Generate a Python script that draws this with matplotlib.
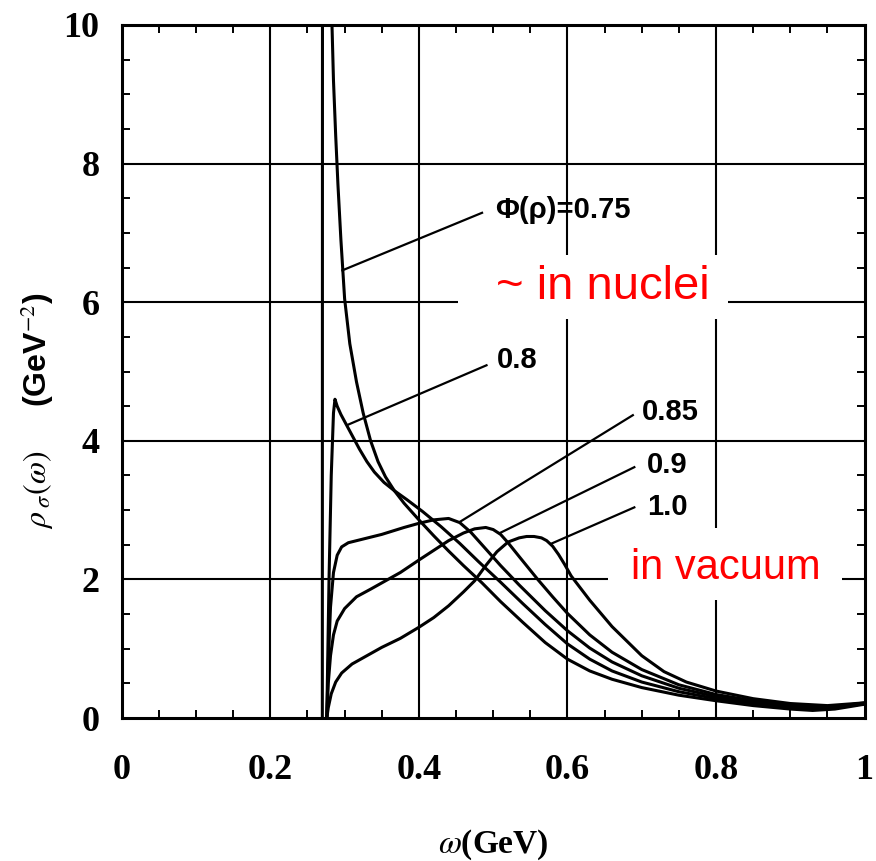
import matplotlib
matplotlib.use("Agg")
import matplotlib.pyplot as plt
from matplotlib.patches import Rectangle
from matplotlib.ticker import MultipleLocator

# sigma spectral function rho_sigma(omega) [GeV^-2] vs omega [GeV],
# one curve per Phi(rho)
w_075 = [0.270, 0.2702, 0.2828, 0.283, 0.285, 0.288, 0.291, 0.295, 0.300, 0.307,
         0.316, 0.325, 0.335, 0.345, 0.355, 0.367, 0.380, 0.400, 0.420, 0.440,
         0.460, 0.485, 0.510, 0.540, 0.570, 0.600, 0.630, 0.660, 0.700, 0.750,
         0.800, 0.850, 0.900, 0.930, 0.960, 1.000]
rho_075 = [0.0, 11.0, 11.0, 10.0, 9.2, 8.4, 7.7, 6.9, 6.05, 5.4,
           4.85, 4.4, 4.0, 3.7, 3.48, 3.28, 3.1, 2.86, 2.63, 2.41,
           2.2, 1.95, 1.68, 1.38, 1.09, 0.85, 0.68, 0.56, 0.44, 0.33,
           0.25, 0.18, 0.13, 0.11, 0.13, 0.2]

w_080 = [0.276, 0.279, 0.282, 0.285, 0.287, 0.290, 0.295, 0.303, 0.311, 0.320,
         0.330, 0.340, 0.353, 0.367, 0.384, 0.405, 0.430, 0.455, 0.480, 0.510,
         0.540, 0.570, 0.600, 0.630, 0.660, 0.700, 0.750, 0.800, 0.850, 0.900,
         0.950, 1.000]
rho_080 = [0.0, 2.0, 3.5, 4.4, 4.6, 4.5, 4.38, 4.22, 4.06, 3.88,
           3.7, 3.55, 3.4, 3.28, 3.15, 2.98, 2.76, 2.52, 2.26, 1.96,
           1.65, 1.35, 1.07, 0.85, 0.68, 0.52, 0.38, 0.28, 0.2, 0.15,
           0.13, 0.21]

w_085 = [0.276, 0.278, 0.281, 0.285, 0.290, 0.296, 0.305, 0.320, 0.350, 0.380,
         0.400, 0.420, 0.440, 0.455, 0.470, 0.490, 0.510, 0.535, 0.570, 0.600,
         0.630, 0.660, 0.700, 0.750, 0.800, 0.850, 0.900, 0.950, 1.000]
rho_085 = [0.0, 0.8, 1.6, 2.1, 2.35, 2.47, 2.53, 2.57, 2.65, 2.75,
           2.81, 2.86, 2.88, 2.82, 2.68, 2.44, 2.2, 1.92, 1.55, 1.26,
           1.01, 0.81, 0.61, 0.43, 0.31, 0.22, 0.16, 0.14, 0.21]

w_090 = [0.276, 0.278, 0.281, 0.285, 0.290, 0.300, 0.316, 0.335, 0.350, 0.375,
         0.400, 0.420, 0.440, 0.460, 0.475, 0.490, 0.500, 0.510, 0.520, 0.535,
         0.560, 0.580, 0.600, 0.630, 0.660, 0.700, 0.750, 0.800, 0.850, 0.900,
         0.950, 1.000]
rho_090 = [0.0, 0.5, 0.9, 1.2, 1.4, 1.58, 1.75, 1.86, 1.95, 2.1,
           2.28, 2.42, 2.56, 2.67, 2.73, 2.75, 2.72, 2.65, 2.53, 2.33,
           2.0, 1.75, 1.51, 1.2, 0.95, 0.7, 0.48, 0.34, 0.25, 0.18,
           0.15, 0.22]

w_100 = [0.276, 0.278, 0.282, 0.288, 0.296, 0.310, 0.330, 0.350, 0.375, 0.400,
         0.420, 0.440, 0.460, 0.475, 0.490, 0.505, 0.520, 0.535, 0.545, 0.555,
         0.565, 0.572, 0.580, 0.588, 0.596, 0.605, 0.630, 0.660, 0.700, 0.730,
         0.760, 0.800, 0.850, 0.900, 0.950, 1.000]
rho_100 = [0.0, 0.15, 0.35, 0.52, 0.65, 0.78, 0.9, 1.02, 1.15, 1.31,
           1.45, 1.62, 1.82, 1.98, 2.2, 2.4, 2.54, 2.6, 2.62, 2.62,
           2.6, 2.56, 2.48, 2.36, 2.22, 2.05, 1.7, 1.32, 0.9, 0.67,
           0.52, 0.39, 0.28, 0.21, 0.18, 0.22]

curves = [(w_075, rho_075), (w_080, rho_080), (w_085, rho_085),
          (w_090, rho_090), (w_100, rho_100)]

x_ticks = [0, 0.2, 0.4, 0.6, 0.8, 1]
x_tick_labels = ["0", "0.2", "0.4", "0.6", "0.8", "1"]
y_ticks = [0, 2, 4, 6, 8, 10]
y_tick_labels = ["0", "2", "4", "6", "8", "10"]

plt.rcParams["mathtext.fontset"] = "stix"

fig = plt.figure(figsize=(8.76, 8.61), dpi=100)
ax = fig.add_axes([0.139, 0.166, 0.848, 0.805])
ax.set_xlim(0, 1)
ax.set_ylim(0, 10)

# grid drawn as plain black lines like the scan
for gx in x_ticks[1:-1]:
    ax.axvline(gx, color="black", lw=1.5, zorder=1)
for gy in y_ticks[1:-1]:
    ax.axhline(gy, color="black", lw=1.5, zorder=1)

for w, rho in curves:
    ax.plot(w, rho, color="black", lw=2.2, zorder=2,
            solid_joinstyle="round", solid_capstyle="round")

# curve labels with leader lines
lab_font = dict(family="Liberation Sans", weight="bold", fontsize=21, color="black")
ax.plot([0.297, 0.485], [6.46, 7.29], color="black", lw=1.6, zorder=2)
ax.text(0.503, 7.33, "\u03a6(\u03c1)=0.75", ha="left", va="center", **lab_font)
ax.plot([0.304, 0.491], [4.23, 5.09], color="black", lw=1.6, zorder=2)
ax.text(0.505, 5.17, "0.8", ha="left", va="center", **lab_font)
ax.plot([0.455, 0.688], [2.83, 4.37], color="black", lw=1.6, zorder=2)
ax.text(0.700, 4.42, "0.85", ha="left", va="center", **lab_font)
ax.plot([0.509, 0.690], [2.67, 3.62], color="black", lw=1.6, zorder=2)
ax.text(0.707, 3.65, "0.9", ha="left", va="center", **lab_font)
ax.plot([0.579, 0.690], [2.52, 3.04], color="black", lw=1.6, zorder=2)
ax.text(0.707, 3.04, "1.0", ha="left", va="center", **lab_font)

# red annotations on white patches
ax.add_patch(Rectangle((0.452, 5.76), 0.364, 0.92, facecolor="white",
                       edgecolor="none", zorder=3))
ax.text(0.648, 6.22, "~ in nuclei", ha="center", va="center", color="red",
        family="Liberation Sans", fontsize=34, zorder=4)
ax.add_patch(Rectangle((0.655, 1.70), 0.315, 1.04, facecolor="white",
                       edgecolor="none", zorder=3))
ax.text(0.813, 2.16, "in vacuum", ha="center", va="center", color="red",
        family="Liberation Sans", fontsize=30, zorder=4)

ax.set_xticks(x_ticks)
ax.set_xticklabels(x_tick_labels)
ax.set_yticks(y_ticks)
ax.set_yticklabels(y_tick_labels)
ax.xaxis.set_minor_locator(MultipleLocator(0.05))
ax.yaxis.set_minor_locator(MultipleLocator(0.5))
ax.tick_params(which="both", direction="in", top=True, right=True,
               length=6, width=1.4)
ax.tick_params(axis="x", which="major", pad=26)
ax.tick_params(axis="y", which="major", pad=16)
for lbl in ax.get_xticklabels() + ax.get_yticklabels():
    lbl.set_family("Liberation Serif")
    lbl.set_fontweight("bold")
    lbl.set_fontsize(26)
for sp in ax.spines.values():
    sp.set_linewidth(2.2)

fig.text(0.043, 0.523, r"$\rho_{\;\sigma}(\omega)$     (GeV$^{-2}$)", rotation=90,
         ha="center", va="center", fontsize=23, family="Liberation Sans",
         weight="bold")
fig.text(0.563, 0.019, r"$\omega$(GeV)", ha="center", va="center",
         fontsize=24, family="Liberation Serif", weight="bold")

fig.savefig("out.png", dpi=100)
